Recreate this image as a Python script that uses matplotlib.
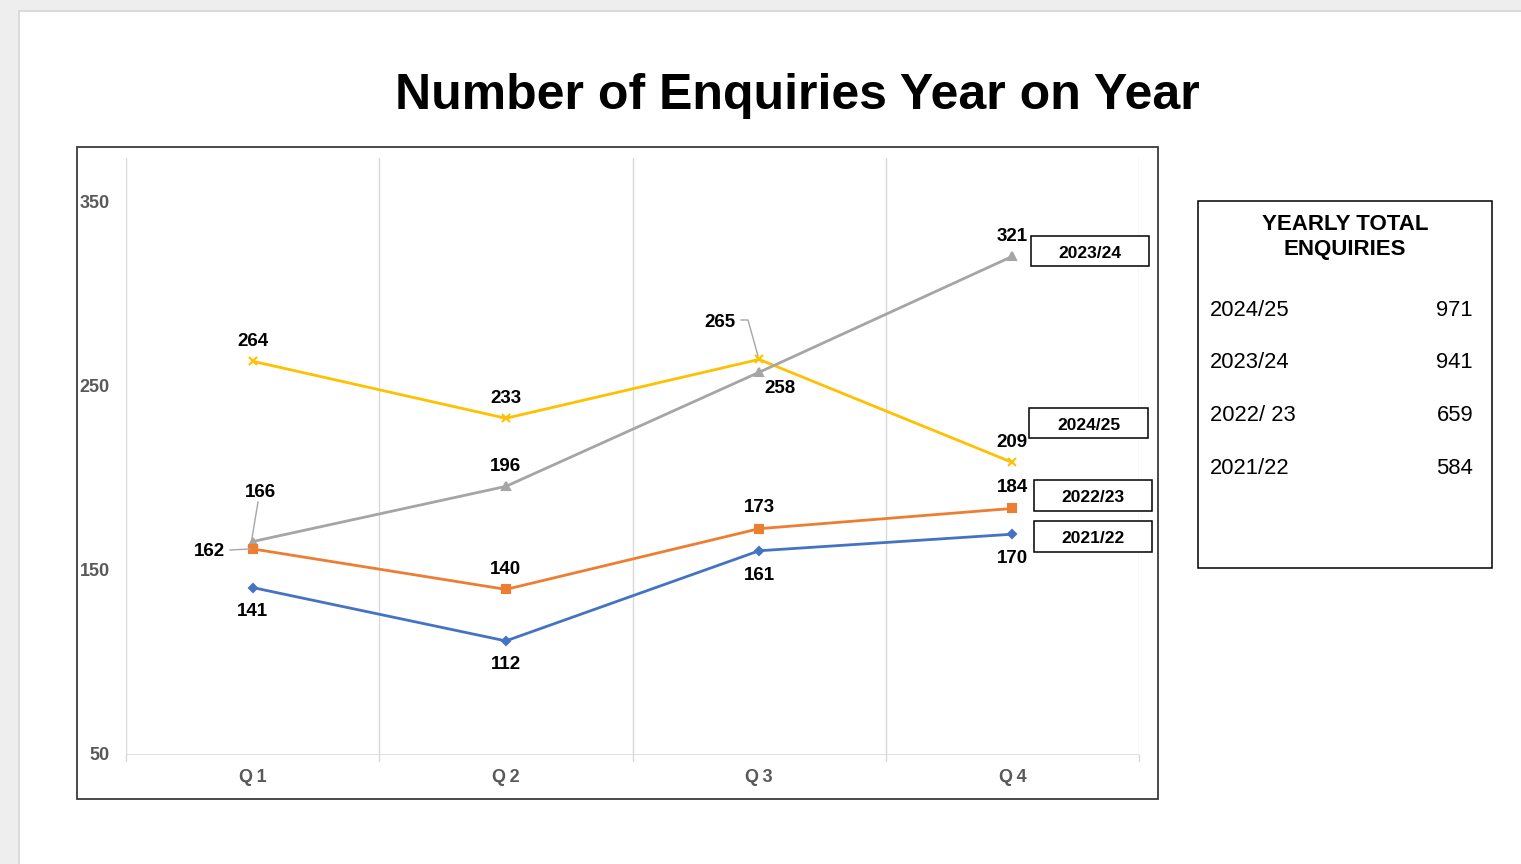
import matplotlib
matplotlib.use("Agg")
import matplotlib.pyplot as plt
from matplotlib.patches import Rectangle
from matplotlib.lines import Line2D

plt.rcParams['font.family'] = ['Liberation Sans', 'DejaVu Sans']

W, H = 1521, 864

quarters = ["Q1", "Q2", "Q3", "Q4"]
s2122 = [141, 112, 161, 170]
s2223 = [162, 140, 173, 184]
s2324 = [166, 196, 258, 321]
s2425 = [264, 233, 265, 209]
series_names = ["2021/22", "2022/23", "2023/24", "2024/25"]
totals_years = ["2024/25", "2023/24", "2022/ 23", "2021/22"]
totals_values = [971, 941, 659, 584]
yticks = [50, 150, 250, 350]

fig = plt.figure(figsize=(W / 100, H / 100), dpi=100)
fig.patch.set_facecolor('#eeeeee')


def P(x, y):
    return (x / W, 1 - y / H)


def prect(x0, y0, x1, y1, **kw):
    r = Rectangle(P(x0, y1), (x1 - x0) / W, (y1 - y0) / H, transform=fig.transFigure, **kw)
    fig.add_artist(r)
    return r


# page background
prect(19, 11, W + 5, H + 5, facecolor='white', edgecolor='#d6d6d6', lw=1.2, zorder=0)

# title
fig.text(*P(797, 96), "Number of Enquiries Year on Year", ha='center', va='center',
         fontsize=36, fontweight='bold', color='black')

# chart outer box
prect(77, 147, 1158, 799, facecolor='none', edgecolor='#3a3a3a', lw=1.3, zorder=1)

# axes
ax_l, ax_r, ax_t, ax_b = 126, 1139, 158, 755
ax = fig.add_axes([ax_l / W, 1 - ax_b / H, (ax_r - ax_l) / W, (ax_b - ax_t) / H])
ax.set_facecolor('none')
ax.set_xlim(-0.5, 3.5)
ax.set_ylim(50, 50 + (ax_b - ax_t) / 1.84)
for s in ax.spines.values():
    s.set_visible(False)

xs = list(range(len(quarters)))
for b in [-0.5, 0.5, 1.5, 2.5, 3.5]:
    ax.axvline(b, color='#d9d9d9', lw=1, zorder=0)
ax.axhline(50, color='#d9d9d9', lw=1.2, zorder=0)
for b in [-0.5, 0.5, 1.5, 2.5, 3.5]:
    ax.add_line(Line2D([b, b], [0, -0.01], transform=ax.get_xaxis_transform(),
                       color='#d9d9d9', lw=1, clip_on=False))

ax.set_xticks([])
ax.set_yticks([])
for i, q in enumerate(quarters):
    ax.annotate(q[0] + "\u2009" + q[1:], xy=(i, 50), xytext=(0, -23), textcoords='offset pixels',
                ha='center', va='center', fontsize=13, fontweight='bold', color='#595959')
for v in yticks:
    ax.annotate(str(v), xy=(-0.5, v), xytext=(-16, -1), textcoords='offset pixels',
                ha='right', va='center', fontsize=13, fontweight='bold', color='#595959',
                annotation_clip=False)

colors = {"2021/22": '#4472C4', "2022/23": '#ED7D31', "2023/24": '#A5A5A5', "2024/25": '#FFC000'}
markers = {"2021/22": 'D', "2022/23": 's', "2023/24": '^', "2024/25": 'x'}
msizes = {"2021/22": 4.5, "2022/23": 5.5, "2023/24": 5.5, "2024/25": 6}
data = {"2021/22": s2122, "2022/23": s2223, "2023/24": s2324, "2024/25": s2425}

for name in ["2024/25", "2023/24", "2022/23", "2021/22"]:
    ax.plot(xs, data[name], color=colors[name], lw=2, marker=markers[name],
            markersize=msizes[name], markeredgewidth=1.5, zorder=3)

offsets = {
    "2021/22": [(0, -22), (0, -22), (0, -23), (0, -22)],
    "2022/23": [(-43, -1), (0, 22), (0, 23), (0, 23)],
    "2023/24": [(8, 51), (0, 22), (21, -14), (0, 22)],
    "2024/25": [(0, 22), (0, 22), (-39, 39), (0, 22)],
}
for name in series_names:
    for i, v in enumerate(data[name]):
        dx, dy = offsets[name][i]
        ax.annotate(str(v), xy=(i, v), xytext=(dx, dy - 2), textcoords='offset pixels',
                    ha='center', va='center', fontsize=13.5, fontweight='bold', color='black',
                    zorder=5)


def pline(pts, color='#a6a6a6'):
    xsl = [p[0] / W for p in pts]
    ysl = [1 - p[1] / H for p in pts]
    fig.add_artist(Line2D(xsl, ysl, transform=fig.transFigure, color=color, lw=1, zorder=4))

pline([(230, 550), (250, 549)])
pline([(258, 502), (252, 538)])
pline([(741, 320), (748, 320), (758, 356)])

boxes = [
    ("2023/24", 1031, 236, 1149, 266),
    ("2024/25", 1029, 408, 1148, 438),
    ("2022/23", 1034, 480, 1152, 511),
    ("2021/22", 1034, 521, 1152, 552),
]
for name, x0, y0, x1, y1 in boxes:
    prect(x0, y0, x1, y1, facecolor='white', edgecolor='black', lw=1.1, zorder=6)
    fig.text(*P((x0 + x1) / 2, (y0 + y1) / 2 + 2), name, ha='center', va='center',
             fontsize=12.5, fontweight='bold', color='black', zorder=7)

prect(1198, 201, 1492, 568, facecolor='white', edgecolor='black', lw=1.1, zorder=6)
fig.text(*P(1345, 224), "YEARLY TOTAL", ha='center', va='center',
         fontsize=16, fontweight='bold', color='black', zorder=7)
fig.text(*P(1345, 250), "ENQUIRIES", ha='center', va='center',
         fontsize=16, fontweight='bold', color='black', zorder=7)
row_y = [310, 363, 416, 469]
for yr, val, yy in zip(totals_years, totals_values, row_y):
    fig.text(*P(1210, yy), yr, ha='left', va='center', fontsize=15.8, color='black', zorder=7)
    fig.text(*P(1473, yy), str(val), ha='right', va='center', fontsize=15.8, color='black', zorder=7)

fig.savefig("out.png", dpi=100, facecolor=fig.get_facecolor())
